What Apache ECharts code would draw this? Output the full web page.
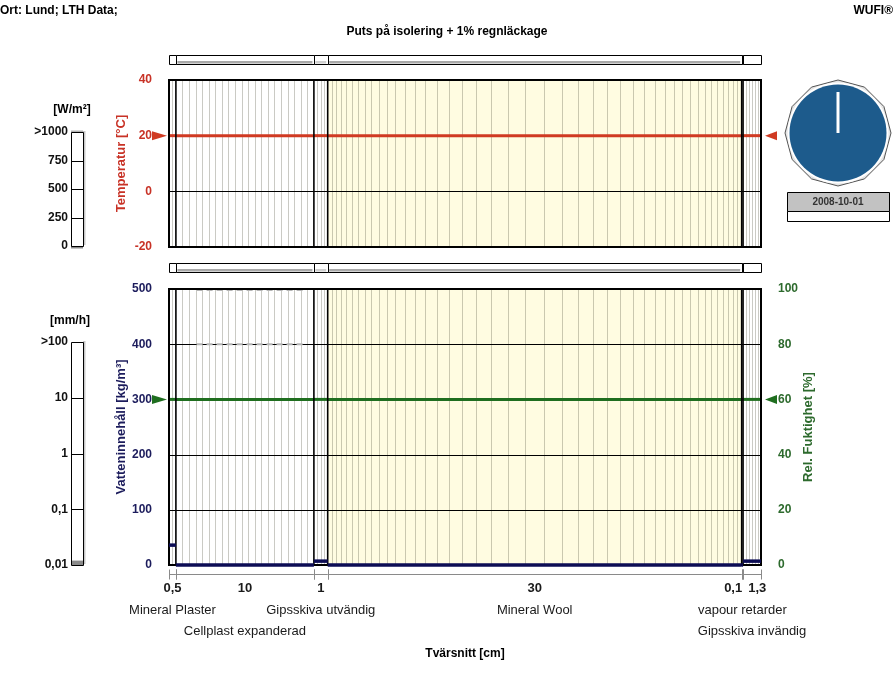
<!DOCTYPE html>
<html><head><meta charset="utf-8">
<script src="https://cdn.jsdelivr.net/npm/echarts/dist/echarts.min.js"></script>
<style>html,body{margin:0;padding:0;background:#fff}#c{width:894px;height:679px}</style>
</head><body><div id="c"></div>
<script>
// ---------------- data ----------------
const layerNames = ['Mineral Plaster','Cellplast expanderad','Gipsskiva utvändig','Mineral Wool','vapour retarder','Gipsskiva invändig'];
const layerThickness = [0.5, 10, 1, 30, 0.1, 1.3];          // cm
const thicknessLabels = ['0,5','10','1','30','0,1','1,3'];
const layerElements = [2, 21, 4, 43, 1, 6];                  // numerical grid elements per layer
const layerGrading = [1, 1, 1, 1.074, 1, 1];                 // element growth ratio towards layer centre
const temperature = [20, 20, 20, 20, 20, 20];                // °C
const waterContent = [36, 0, 7, 0, 0, 7];                    // kg/m³
const relHumidity = [60, 60, 60, 60, 60, 60];                // %
const surfaceTemperature = [20, 20];                         // exterior, interior climate
const surfaceHumidity = [60, 60];
const tempTicks = [-20, 0, 20, 40];
const waterTicks = [0, 100, 200, 300, 400, 500];
const rhTicks = [0, 20, 40, 60, 80, 100];
const radiationTicks = [0, 250, 500, 750, 1000];
const radiationTickLabels = ['0','250','500','750','>1000'];
const rainTicks = [0.01, 0.1, 1, 10, 100];
const rainTickLabels = ['0,01','0,1','1','10','>100'];
const radiation = 0;       // W/m²
const rain = 0.012;        // mm/h
const ghostSpan = [2.0, 9.7];
const ghostUpper = [-20];
const ghostLower = [498, 400];
const dateLabel = '2008-10-01';
const clockHour = 0;

// ---------------- helpers ----------------
const FONT = '"Liberation Sans", Arial, sans-serif';
const RED = '#c83226', RED_LINE = '#d03a22';
const NAVY = '#1c1c5c', NAVY_LINE = '#0d0d55';
const GREEN = '#2d6a2d', GREEN_LINE = '#1f6e1f';
const YELLOW = '#fffce1';

const total = layerThickness.reduce((a, b) => a + b, 0);
const edges = [0];
layerThickness.forEach(t => edges.push(edges[edges.length - 1] + t));
const layerData = layerThickness.map((t, i) => [edges[i], edges[i + 1], i]);
const boundaryData = edges.slice(1, -1).map(e => [e, 0]);

const mesh = [];
layerThickness.forEach((t, i) => {
  const n = layerElements[i], r = layerGrading[i];
  const w = [];
  for (let k = 0; k < n; k++) w.push(Math.pow(r, Math.min(k, n - 1 - k)));
  const s = w.reduce((a, b) => a + b, 0);
  let acc = 0;
  for (let k = 0; k < n - 1; k++) { acc += w[k]; mesh.push([edges[i] + t * acc / s, 0]); }
});

// label placement (pixel offsets to avoid overlaps)
const plotW = 592, pxPerCm = plotW / total;
const mctx = document.createElement('canvas').getContext('2d');
mctx.font = '13px ' + FONT;
const rowEnds = [-1e9, -1e9];
const nameRow = layerNames.map((nm, i) => {
  const c = (edges[i] + edges[i + 1]) / 2 * pxPerCm;
  const w = mctx.measureText(nm).width;
  const row = (c - w / 2 > rowEnds[0] + 4) ? 0 : 1;
  rowEnds[row] = c + w / 2;
  return row;
});
mctx.font = 'bold 13px ' + FONT;
const thickShift = thicknessLabels.map(() => 0);
for (let i = 1; i < thicknessLabels.length; i++) {
  const c0 = (edges[i - 1] + edges[i]) / 2 * pxPerCm + thickShift[i - 1];
  const c1 = (edges[i] + edges[i + 1]) / 2 * pxPerCm;
  const need = (mctx.measureText(thicknessLabels[i - 1]).width + mctx.measureText(thicknessLabels[i]).width) / 2 + 6;
  if (c1 - c0 < need) {
    const d = (need - (c1 - c0)) / 2;
    thickShift[i - 1] -= d + 2; thickShift[i] += d - 2;
  }
}

const px = v => Math.round(v) + 0.5;

function bgSeries(xi, yi, yMin, yMax) {
  return { type: 'custom', xAxisIndex: xi, yAxisIndex: yi, z: 1, silent: true, data: layerData,
    renderItem: (p, api) => {
      const a = api.coord([api.value(0), yMax]), b = api.coord([api.value(1), yMin]);
      const idx = api.value(2);
      return { type: 'rect', shape: { x: a[0], y: a[1], width: b[0] - a[0], height: b[1] - a[1] },
        style: { fill: layerNames[idx] === 'Mineral Wool' ? YELLOW : '#ffffff' } };
    } };
}
function meshSeries(xi, yi, yMin, yMax) {
  return { type: 'custom', xAxisIndex: xi, yAxisIndex: yi, z: 2, silent: true, data: mesh,
    renderItem: (p, api) => {
      const a = api.coord([api.value(0), yMax]), b = api.coord([api.value(0), yMin]);
      const x = px(a[0]);
      return { type: 'line', shape: { x1: x, y1: a[1], x2: x, y2: b[1] }, style: { stroke: 'rgba(90,90,70,0.32)', lineWidth: 1 } };
    } };
}
function hGridSeries(xi, yi, ticks) {
  return { type: 'custom', xAxisIndex: xi, yAxisIndex: yi, z: 3, silent: true, data: ticks.map(t => [0, t]),
    renderItem: (p, api) => {
      const a = api.coord([0, api.value(1)]), b = api.coord([total, api.value(1)]);
      const y = px(a[1]);
      return { type: 'line', shape: { x1: a[0], y1: y, x2: b[0], y2: y }, style: { stroke: '#000', lineWidth: 1 } };
    } };
}
function boundarySeries(xi, yi, yMin, yMax) {
  return { type: 'custom', xAxisIndex: xi, yAxisIndex: yi, z: 6, silent: true, data: boundaryData,
    renderItem: (p, api) => {
      const a = api.coord([api.value(0), yMax]), b = api.coord([api.value(0), yMin]);
      return { type: 'line', shape: { x1: a[0], y1: a[1], x2: a[0], y2: b[1] }, style: { stroke: '#000', lineWidth: 1.6 } };
    } };
}
function frameSeries(xi, yi, lw) {
  return { type: 'custom', xAxisIndex: xi, yAxisIndex: yi, z: 8, silent: true, data: [[0, 0]],
    renderItem: (p) => {
      const c = p.coordSys;
      return { type: 'rect', shape: { x: c.x, y: c.y, width: c.width, height: c.height },
        style: { fill: null, stroke: '#000', lineWidth: lw } };
    } };
}
function ghostSeries(xi, yi, vals, color) {
  return { type: 'custom', xAxisIndex: xi, yAxisIndex: yi, z: 5, silent: true, data: vals.map(v => [ghostSpan[0], v]),
    renderItem: (p, api) => {
      const a = api.coord([ghostSpan[0], api.value(1)]), b = api.coord([ghostSpan[1], api.value(1)]);
      return { type: 'line', shape: { x1: a[0], y1: a[1], x2: b[0], y2: b[1] },
        style: { stroke: color, lineWidth: 2, lineDash: [6, 4] } };
    } };
}
function profileSeries(xi, yi, values, color, lw, z) {
  return { type: 'custom', xAxisIndex: xi, yAxisIndex: yi, z: z, silent: true,
    data: layerData.map(d => [d[0], d[1], values[d[2]]]),
    renderItem: (p, api) => {
      const a = api.coord([api.value(0), api.value(2)]), b = api.coord([api.value(1), api.value(2)]);
      return { type: 'line', shape: { x1: a[0], y1: a[1], x2: b[0], y2: b[1] }, style: { stroke: color, lineWidth: lw } };
    } };
}
function arrowSeries(xi, yi, vals, color) {
  return { type: 'custom', xAxisIndex: xi, yAxisIndex: yi, z: 9, silent: true,
    data: [[0, vals[0], 1], [total, vals[1], -1]],
    renderItem: (p, api) => {
      const c = api.coord([api.value(0), api.value(1)]);
      const dir = api.value(2);
      const tip = dir > 0 ? c[0] - 2 : c[0] + 4;
      const base = dir > 0 ? c[0] - 17 : c[0] + 16;
      return { type: 'polygon', shape: { points: [[tip, c[1]], [base, c[1] - 4.5], [base, c[1] + 4.5]] },
        style: { fill: color } };
    } };
}
function stripSeries(xi, yi) {
  return { type: 'custom', xAxisIndex: xi, yAxisIndex: yi, z: 3, silent: true, data: layerData,
    renderItem: (p, api) => {
      const a = api.coord([api.value(0), 1]), b = api.coord([api.value(1), 0]);
      const idx = api.value(2);
      const children = [{ type: 'rect', shape: { x: px(a[0]), y: px(a[1]), width: Math.max(1, Math.round(b[0] - a[0])), height: Math.round(b[1] - a[1]) },
        style: { fill: '#fff', stroke: '#000', lineWidth: 1 } }];
      if (idx >= 1 && idx <= 3) {
        children.push({ type: 'rect', shape: { x: a[0] + 1.5, y: b[1] - 3, width: b[0] - a[0] - 3, height: 2.5 },
          style: { fill: idx === 2 ? '#cfcfcf' : '#a8a8a8' } });
      }
      return { type: 'group', children };
    } };
}
function scaleBarSeries(xi, yi, ticks, value, minV, shadowTop) {
  return [
    { type: 'custom', xAxisIndex: xi, yAxisIndex: yi, z: 4, silent: true, data: [[0, value]],
      renderItem: (p, api) => {
        const c = p.coordSys;
        const y0 = api.coord([0, minV])[1], y1 = api.coord([0, api.value(1)])[1];
        return { type: 'rect', shape: { x: c.x, y: Math.min(y0, y1), width: c.width, height: Math.max(Math.abs(y0 - y1), 2.5) },
          style: { fill: '#8a8a8a' } };
      } },
    { type: 'custom', xAxisIndex: xi, yAxisIndex: yi, z: 5, silent: true, data: ticks.slice(1, -1).map(t => [0, t]),
      renderItem: (p, api) => {
        const c = p.coordSys, y = px(api.coord([0, api.value(1)])[1]);
        return { type: 'line', shape: { x1: c.x, y1: y, x2: c.x + c.width, y2: y }, style: { stroke: '#000', lineWidth: 1 } };
      } },
    { type: 'custom', xAxisIndex: xi, yAxisIndex: yi, z: 6, silent: true, data: [[0, ticks[0]]],
      renderItem: (p) => {
        const c = p.coordSys;
        const ch = [{ type: 'rect', shape: { x: c.x + c.width, y: c.y - 1, width: 2.5, height: c.height }, style: { fill: '#c8c8c8' } }];
        if (shadowTop) ch.push({ type: 'rect', shape: { x: c.x, y: c.y - 1.5, width: c.width, height: 2 }, style: { fill: '#b0b0b0' } });
        ch.push({ type: 'rect', shape: { x: px(c.x), y: px(c.y), width: Math.round(c.width), height: Math.round(c.height) }, style: { fill: null, stroke: '#000', lineWidth: 1 } });
        return { type: 'group', children: ch };
      } }
  ];
}

const dom = document.getElementById('c');
const chart = echarts.init(dom, null, { renderer: 'canvas', width: 894, height: 679 });

const axisLbl = (color) => ({ color, fontFamily: FONT, fontWeight: 'bold', fontSize: 12 });
const hdr = { fontSize: 12, fontWeight: 'bold', color: '#000', fontFamily: FONT };
const nameStyle = (color) => ({ color, fontWeight: 'bold', fontSize: 13, fontFamily: FONT });

const option = {
  animation: false,
  backgroundColor: '#fff',
  textStyle: { fontFamily: FONT },
  title: [
    { text: 'Ort: Lund; LTH Data;', left: 0, top: 5, padding: 0, textStyle: hdr },
    { text: 'WUFI®', right: 1, top: 5, padding: 0, textStyle: hdr },
    { text: 'Puts på isolering + 1% regnläckage', left: 'center', top: 26, padding: 0, textStyle: hdr },
    { text: 'Tvärsnitt [cm]', left: 465, top: 648, padding: 0, textAlign: 'center', textStyle: hdr },
    { text: '[W/m²]', left: 72, top: 104, padding: 0, textAlign: 'center', textStyle: hdr },
    { text: '[mm/h]', left: 70, top: 315, padding: 0, textAlign: 'center', textStyle: hdr }
  ],
  grid: [
    { left: 169, top: 80, width: 592, height: 167, show: false },
    { left: 169, top: 289, width: 592, height: 276, show: false },
    { left: 169, top: 55, width: 592, height: 9, show: false },
    { left: 169, top: 263, width: 592, height: 9, show: false },
    { left: 71, top: 132, width: 12, height: 114, show: false },
    { left: 71, top: 342, width: 12, height: 223, show: false }
  ],
  xAxis: [
    { gridIndex: 0, type: 'value', min: 0, max: total, show: false },
    { gridIndex: 1, type: 'value', min: 0, max: total, show: false },
    { gridIndex: 2, type: 'value', min: 0, max: total, show: false },
    { gridIndex: 3, type: 'value', min: 0, max: total, show: false },
    { gridIndex: 4, type: 'value', min: 0, max: 1, show: false },
    { gridIndex: 5, type: 'value', min: 0, max: 1, show: false }
  ],
  yAxis: [
    { gridIndex: 0, type: 'value', min: tempTicks[0], max: tempTicks[tempTicks.length - 1], interval: 20,
      axisLine: { show: false }, axisTick: { show: false }, splitLine: { show: false },
      axisLabel: Object.assign(axisLbl(RED), { margin: 17 }),
      name: 'Temperatur [°C]', nameLocation: 'middle', nameGap: 41, nameRotate: 90, nameMoveOverlap: false,
      nameTextStyle: nameStyle(RED) },
    { gridIndex: 1, type: 'value', min: waterTicks[0], max: waterTicks[waterTicks.length - 1], interval: 100,
      axisLine: { show: false }, axisTick: { show: false }, splitLine: { show: false },
      axisLabel: Object.assign(axisLbl(NAVY), { margin: 17 }),
      name: 'Vatteninnehåll [kg/m³]', nameLocation: 'middle', nameGap: 41, nameRotate: 90, nameMoveOverlap: false,
      nameTextStyle: nameStyle(NAVY) },
    { gridIndex: 1, type: 'value', position: 'right', min: rhTicks[0], max: rhTicks[rhTicks.length - 1], interval: 20,
      axisLine: { show: false }, axisTick: { show: false }, splitLine: { show: false },
      axisLabel: Object.assign(axisLbl(GREEN), { margin: 17 }),
      name: 'Rel. Fuktighet [%]', nameLocation: 'middle', nameGap: 41, nameRotate: 90, nameMoveOverlap: false,
      nameTextStyle: nameStyle(GREEN) },
    { gridIndex: 2, type: 'value', min: 0, max: 1, show: false },
    { gridIndex: 3, type: 'value', min: 0, max: 1, show: false },
    { gridIndex: 4, type: 'value', min: 0, max: 1000, interval: 250,
      axisLine: { show: false }, axisTick: { show: false }, splitLine: { show: false },
      axisLabel: Object.assign(axisLbl('#111'), { margin: 3, formatter: v => radiationTickLabels[radiationTicks.indexOf(v)] }) },
    { gridIndex: 5, type: 'log', logBase: 10, min: 0.01, max: 100,
      axisLine: { show: false }, axisTick: { show: false }, splitLine: { show: false },
      axisLabel: Object.assign(axisLbl('#111'), { margin: 3, formatter: v => rainTickLabels[Math.round(Math.log10(v)) + 2] }) }
  ],
  series: [
    // upper plot: temperature
    bgSeries(0, 0, -20, 40),
    meshSeries(0, 0, -20, 40),
    hGridSeries(0, 0, tempTicks.slice(1, -1)),
    ghostSeries(0, 0, ghostUpper, '#222'),
    profileSeries(0, 0, temperature, RED_LINE, 3, 5),
    boundarySeries(0, 0, -20, 40),
    frameSeries(0, 0, 2),
    arrowSeries(0, 0, surfaceTemperature, RED_LINE),
    // lower plot: water content & RH
    bgSeries(1, 1, 0, 500),
    meshSeries(1, 1, 0, 500),
    hGridSeries(1, 1, waterTicks.slice(1, -1)),
    ghostSeries(1, 1, ghostLower, '#b5b5b5'),
    profileSeries(1, 2, relHumidity, GREEN_LINE, 3, 5),
    boundarySeries(1, 1, 0, 500),
    frameSeries(1, 1, 2),
    profileSeries(1, 1, waterContent, NAVY_LINE, 3.5, 9),
    arrowSeries(1, 2, surfaceHumidity, GREEN_LINE),
    // cross section labels
    { type: 'custom', xAxisIndex: 1, yAxisIndex: 1, z: 9, silent: true, data: layerData,
      renderItem: (p, api) => {
        const i = api.value(2);
        const a = api.coord([api.value(0), 0]), b = api.coord([api.value(1), 0]);
        const yb = a[1];
        const yd = yb + 9.5, cx = (a[0] + b[0]) / 2;
        const children = [
          { type: 'line', shape: { x1: a[0], y1: yd, x2: b[0], y2: yd }, style: { stroke: '#8a8a8a', lineWidth: 1 } },
          { type: 'line', shape: { x1: px(a[0]), y1: yd - 5, x2: px(a[0]), y2: yd + 5 }, style: { stroke: '#8a8a8a', lineWidth: 1 } },
          { type: 'line', shape: { x1: px(b[0]), y1: yd - 5, x2: px(b[0]), y2: yd + 5 }, style: { stroke: '#8a8a8a', lineWidth: 1 } },
          { type: 'text', x: cx + thickShift[i], y: yb + 23, style: { text: thicknessLabels[i], font: 'bold 13px ' + FONT, fill: '#1a1a1a',
              align: 'center', verticalAlign: 'middle', textAlign: 'center', textVerticalAlign: 'middle' } },
          { type: 'text', x: cx, y: yb + 45 + nameRow[i] * 21, style: { text: layerNames[i], font: '13px ' + FONT, fill: '#1a1a1a',
              align: 'center', verticalAlign: 'middle', textAlign: 'center', textVerticalAlign: 'middle' } }
        ];
        return { type: 'group', children };
      } },
    // layer strips
    stripSeries(2, 3),
    stripSeries(3, 4),
    // radiation & rain scale bars
    ...scaleBarSeries(4, 5, radiationTicks, radiation, 0, true),
    ...scaleBarSeries(5, 6, rainTicks, rain, 0.01, false)
  ],
  graphic: (function () {
    const cx = 838, cy = 133;
    const pts = [];
    for (let k = 0; k < 12; k++) {
      const a = k * Math.PI / 6;
      pts.push([cx + 53 * Math.sin(a), cy - 53 * Math.cos(a)]);
    }
    const ang = clockHour / 12 * 2 * Math.PI;
    return [
      { type: 'polygon', shape: { points: pts }, style: { fill: '#e4e4e4', stroke: '#555', lineWidth: 1 } },
      { type: 'circle', shape: { cx, cy, r: 50.5 }, style: { fill: '#fff' } },
      { type: 'circle', shape: { cx, cy, r: 48.5 }, style: { fill: '#1d5b8c' } },
      { type: 'line', shape: { x1: cx, y1: cy, x2: cx + 41 * Math.sin(ang), y2: cy - 41 * Math.cos(ang) }, style: { stroke: '#fff', lineWidth: 3 } },
      { type: 'rect', shape: { x: 787.5, y: 192.5, width: 102, height: 19 }, style: { fill: '#c2c2c2', stroke: '#000', lineWidth: 1 } },
      { type: 'text', x: 838, y: 202, style: { text: dateLabel, font: 'bold 10px ' + FONT, fill: '#333', align: 'center', verticalAlign: 'middle', textAlign: 'center', textVerticalAlign: 'middle' } },
      { type: 'rect', shape: { x: 787.5, y: 211.5, width: 102, height: 10 }, style: { fill: '#fff', stroke: '#000', lineWidth: 1 } }
    ];
  })()
};
chart.setOption(option);
</script>
</body></html>
